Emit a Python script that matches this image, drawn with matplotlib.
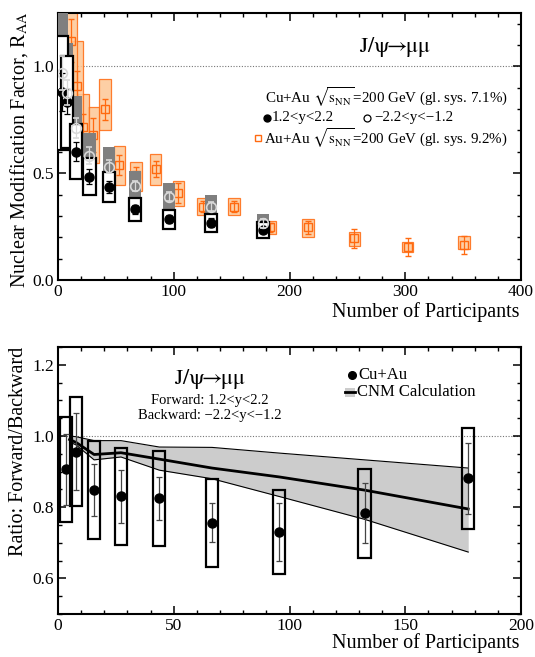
import numpy as np
import matplotlib
matplotlib.use("Agg")
import matplotlib.pyplot as plt
from matplotlib.ticker import MultipleLocator, FormatStrFormatter
from matplotlib.patches import Rectangle

plt.rcParams['font.family'] = ['Liberation Serif', 'DejaVu Serif']
plt.rcParams['mathtext.fontset'] = 'stix'

# ---------------- data: top panel ----------------
cu_npart = [3.5, 7.8, 15.6, 27.2, 43.8, 66.5, 95.6, 132.4, 177.2]

fwd_raa = [0.88, 0.835, 0.601, 0.484, 0.437, 0.331, 0.284, 0.268, 0.234]
fwd_stat = [0.09, 0.06, 0.043, 0.035, 0.028, 0.02, 0.018, 0.02, 0.015]
fwd_sys_lo = [0.61, 0.62, 0.473, 0.398, 0.364, 0.276, 0.237, 0.225, 0.195]
fwd_sys_hi = [1.14, 1.05, 0.73, 0.57, 0.507, 0.382, 0.328, 0.308, 0.27]

bwd_raa = [0.97, 0.877, 0.713, 0.582, 0.53, 0.44, 0.39, 0.343, 0.265]
bwd_stat = [0.08, 0.06, 0.047, 0.04, 0.03, 0.025, 0.02, 0.02, 0.02]
bwd_sys_lo = [0.66, 0.64, 0.55, 0.47, 0.44, 0.37, 0.33, 0.29, 0.23]
bwd_sys_hi = [1.30, 1.11, 0.863, 0.69, 0.624, 0.512, 0.453, 0.398, 0.309]

au_npart = [351, 302, 256, 216, 183, 152, 125.5, 104, 84.4, 67.5, 53, 40.6,
            30.5, 21.9, 16.7, 11]
au_raa = [0.164, 0.153, 0.195, 0.247, 0.247, 0.343, 0.343, 0.406, 0.52, 0.49,
          0.538, 0.799, 0.679, 0.718, 0.908, 1.12]
au_stat = [0.04, 0.042, 0.043, 0.03, 0.02, 0.025, 0.025, 0.047, 0.037, 0.04,
           0.045, 0.05, 0.08, 0.06, 0.07, 0.1]
au_sys_lo = [0.144, 0.133, 0.161, 0.203, 0.214, 0.304, 0.304, 0.346, 0.445,
             0.417, 0.445, 0.70, 0.546, 0.562, 0.734, 0.85]
au_sys_hi = [0.206, 0.176, 0.226, 0.286, 0.276, 0.385, 0.385, 0.465, 0.588,
             0.554, 0.627, 0.94, 0.808, 0.869, 1.119, 1.40]

# ---------------- data: bottom panel ----------------
ratio = [0.906, 0.956, 0.848, 0.831, 0.825, 0.756, 0.730, 0.783, 0.881]
ratio_stat = [0.10, 0.108, 0.072, 0.074, 0.061, 0.055, 0.082, 0.084, 0.10]
ratio_sys_lo = [0.758, 0.802, 0.711, 0.695, 0.692, 0.633, 0.612, 0.656, 0.739]
ratio_sys_hi = [1.052, 1.11, 0.986, 0.965, 0.959, 0.878, 0.848, 0.908, 1.023]

cnm_npart = [5.0, 7.8, 15.6, 27.2, 43.8, 66.5, 95.6, 132.4, 177.2]
cnm_mid = [0.99, 0.982, 0.948, 0.953, 0.935, 0.91, 0.885, 0.848, 0.795]
cnm_hi = [1.0, 0.998, 0.987, 0.987, 0.969, 0.968, 0.952, 0.933, 0.910]
cnm_lo = [0.983, 0.975, 0.933, 0.941, 0.904, 0.88, 0.83, 0.766, 0.674]

ORANGE = '#ff6a10'
ORANGE_FILL = '#fdc795'
GRAY_BOX = '#7f7f7f'
BAND = '#cccccc'

W, H = 535, 657
fig = plt.figure(figsize=(W / 100, H / 100), dpi=100)
ax1 = fig.add_axes([58 / W, (H - 280) / H, 463 / W, 267 / H])
ax2 = fig.add_axes([58 / W, (H - 614) / H, 463 / W, 267 / H])

TITLE = r'$\mathrm{J/\psi\!\!\rightarrow\!\!\mu\mu}$'
SQ = r'$\sqrt{\mathrm{s}_{\mathrm{NN}}}$'


def style_axes(ax):
    for s in ax.spines.values():
        s.set_linewidth(1.5)
    ax.tick_params(which='both', direction='in', top=True, right=True,
                   labelsize=12.5, pad=3)
    ax.tick_params(which='major', length=6, width=1.1)
    ax.tick_params(which='minor', length=3, width=1.0)


# ---------------- top panel ----------------
ax1.set_xlim(0, 400)
ax1.set_ylim(0, 1.25)
ax1.axhline(1.0, color='#777777', lw=0.8, ls=(0, (1, 1.5)), zorder=0)

au_w = 10.0
ax1.bar(au_npart, np.subtract(au_sys_hi, au_sys_lo), bottom=au_sys_lo,
        width=au_w, color=ORANGE_FILL, alpha=0.85, edgecolor=ORANGE,
        linewidth=0.9, zorder=1)
ax1.errorbar(au_npart, au_raa, yerr=au_stat, fmt='s', ms=5.5, mfc='none',
             mec=ORANGE, mew=1.0, ecolor=ORANGE, elinewidth=0.9, capsize=2,
             capthick=0.9, zorder=2)

cu_w = 10.4
ax1.bar(cu_npart, np.subtract(bwd_sys_hi, bwd_sys_lo), bottom=bwd_sys_lo,
        width=cu_w, color=GRAY_BOX, edgecolor='none', zorder=3)
ax1.bar(cu_npart, np.subtract(fwd_sys_hi, fwd_sys_lo), bottom=fwd_sys_lo,
        width=cu_w, color='white', edgecolor='black', linewidth=1.6, zorder=4)
ax1.errorbar(cu_npart, fwd_raa, yerr=fwd_stat, fmt='o', ms=6.5, mfc='black',
             mec='black', ecolor='black', elinewidth=0.9, capsize=2,
             capthick=0.9, zorder=5)
ax1.errorbar(cu_npart, bwd_raa, yerr=bwd_stat, fmt='o', ms=7, mfc='none',
             mec='#d8d8d8', mew=1.2, ecolor='#d8d8d8', elinewidth=0.9,
             capsize=2, capthick=0.9, zorder=6)

ax1.xaxis.set_major_locator(MultipleLocator(100))
ax1.xaxis.set_minor_locator(MultipleLocator(20))
ax1.yaxis.set_major_locator(MultipleLocator(0.5))
ax1.yaxis.set_minor_locator(MultipleLocator(0.1))
ax1.yaxis.set_major_formatter(FormatStrFormatter('%.1f'))
style_axes(ax1)

ax1.text(0.728, 0.873, TITLE, transform=ax1.transAxes,
         ha='center', va='center', fontsize=16)
ax1.text(0.447, 0.685, 'Cu+Au ' + SQ + '=200 GeV (gl. sys. 7.1%)',
         transform=ax1.transAxes, ha='left', va='center', fontsize=10.8)
ax1.plot([0.452], [0.607], 'o', ms=5, color='black', transform=ax1.transAxes,
         clip_on=False)
ax1.text(0.462, 0.607, '1.2<y<2.2', transform=ax1.transAxes, ha='left',
         va='center', fontsize=10.8)
ax1.plot([0.667], [0.607], 'o', ms=5, mfc='none', mec='black', mew=0.9,
         transform=ax1.transAxes, clip_on=False)
ax1.text(0.683, 0.607, '\u22122.2<y<\u22121.2', transform=ax1.transAxes,
         ha='left', va='center', fontsize=10.8)
ax1.plot([0.432], [0.532], 's', ms=5, mfc='none', mec=ORANGE, mew=1.0,
         transform=ax1.transAxes, clip_on=False)
ax1.text(0.445, 0.532, 'Au+Au ' + SQ + '=200 GeV (gl. sys. 9.2%)',
         transform=ax1.transAxes, ha='left', va='center', fontsize=10.8)

fig.text(19 / W, (H - 12) / H, r'Nuclear Modification Factor, R$_{\rm AA}$',
         rotation=90, ha='center', va='top', fontsize=14.5)
fig.text(519 / W, (H - 312) / H, 'Number of Participants', ha='right',
         va='center', fontsize=14.5)

# ---------------- bottom panel ----------------
ax2.set_xlim(0, 200)
ax2.set_ylim(0.5, 1.25)
ax2.axhline(1.0, color='#777777', lw=0.8, ls=(0, (1, 1.5)), zorder=0)

ax2.fill_between(cnm_npart, cnm_lo, cnm_hi, color=BAND, linewidth=0, zorder=1)
ax2.plot(cnm_npart, cnm_hi, color='black', lw=0.8, zorder=2)
ax2.plot(cnm_npart, cnm_lo, color='black', lw=0.8, zorder=2)
ax2.plot(cnm_npart, cnm_mid, color='black', lw=2.0, zorder=2)

r_w = 5.2
ax2.bar(cu_npart, np.subtract(ratio_sys_hi, ratio_sys_lo), bottom=ratio_sys_lo,
        width=r_w, color='none', edgecolor='black', linewidth=1.6, zorder=3)
ax2.errorbar(cu_npart, ratio, yerr=ratio_stat, fmt='o', ms=6.5, mfc='black',
             mec='black', ecolor='#444444', elinewidth=0.9, capsize=2,
             capthick=0.9, zorder=4)

ax2.xaxis.set_major_locator(MultipleLocator(50))
ax2.xaxis.set_minor_locator(MultipleLocator(10))
ax2.yaxis.set_major_locator(MultipleLocator(0.2))
ax2.yaxis.set_minor_locator(MultipleLocator(0.05))
ax2.yaxis.set_major_formatter(FormatStrFormatter('%.1f'))
style_axes(ax2)

ax2.text(0.328, 0.88, TITLE, transform=ax2.transAxes,
         ha='center', va='center', fontsize=16)
ax2.text(0.328, 0.80, 'Forward: 1.2<y<2.2', transform=ax2.transAxes,
         ha='center', va='center', fontsize=10.5)
ax2.text(0.328, 0.742, 'Backward: \u22122.2<y<\u22121.2', transform=ax2.transAxes,
         ha='center', va='center', fontsize=10.5)

ax2.plot([0.635], [0.895], 'o', ms=5.5, color='black', transform=ax2.transAxes,
         clip_on=False)
ax2.text(0.648, 0.895, 'Cu+Au', transform=ax2.transAxes, ha='left',
         va='center', fontsize=12)
ax2.add_patch(Rectangle((0.62, 0.812), 0.022, 0.036, transform=ax2.transAxes,
                        facecolor=BAND, edgecolor='none'))
ax2.plot([0.62, 0.642], [0.830, 0.830], color='black', lw=2.0,
         transform=ax2.transAxes)
ax2.text(0.646, 0.830, 'CNM Calculation', transform=ax2.transAxes, ha='left',
         va='center', fontsize=12)

fig.text(19 / W, (H - 347) / H, 'Ratio: Forward/Backward', rotation=90,
         ha='center', va='top', fontsize=14.5)
fig.text(519 / W, (H - 643) / H, 'Number of Participants', ha='right',
         va='center', fontsize=14.5)

fig.savefig('out.png', dpi=100)
